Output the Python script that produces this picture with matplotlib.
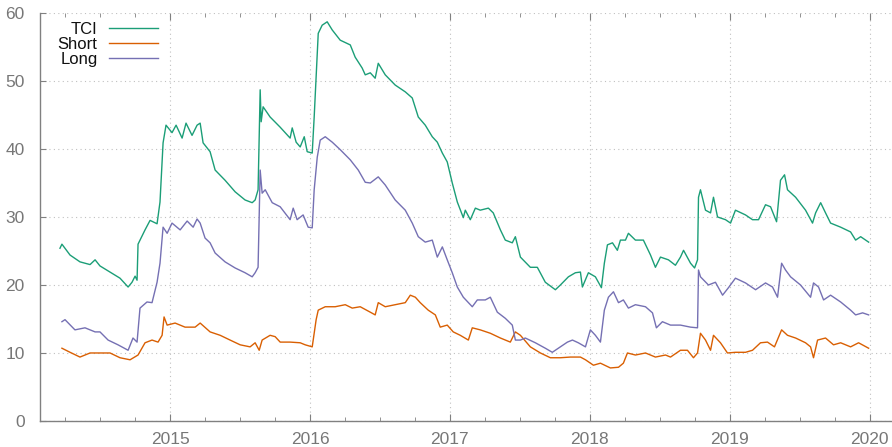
import numpy as np
import matplotlib
matplotlib.use("Agg")
import matplotlib.pyplot as plt
from matplotlib.ticker import MultipleLocator

plt.rcParams['font.family'] = ['Liberation Sans', 'DejaVu Sans']

# dates as decimal years
tci_t = [2014.213, 2014.227, 2014.285, 2014.356, 2014.428, 2014.464, 2014.499, 2014.571, 2014.642,
         2014.700, 2014.728, 2014.750, 2014.764, 2014.771, 2014.821, 2014.857, 2014.907, 2014.928,
         2014.950, 2014.971, 2015.014, 2015.043, 2015.086, 2015.114, 2015.157, 2015.193, 2015.215,
         2015.236, 2015.286, 2015.322, 2015.393, 2015.465, 2015.536, 2015.587, 2015.608, 2015.629,
         2015.644, 2015.651, 2015.665, 2015.715, 2015.787, 2015.858, 2015.873, 2015.901, 2015.930,
         2015.959, 2015.980, 2016.016, 2016.030, 2016.044, 2016.059, 2016.087, 2016.123, 2016.159,
         2016.216, 2016.288, 2016.323, 2016.373, 2016.395, 2016.431, 2016.466, 2016.488, 2016.538,
         2016.609, 2016.681, 2016.731, 2016.774, 2016.824, 2016.874, 2016.910, 2016.946, 2016.981,
         2017.017, 2017.053, 2017.096, 2017.110, 2017.146, 2017.182, 2017.217, 2017.275, 2017.310,
         2017.361, 2017.396, 2017.446, 2017.468, 2017.504, 2017.575, 2017.625, 2017.682, 2017.754,
         2017.790, 2017.847, 2017.897, 2017.933, 2017.947, 2017.990, 2018.040, 2018.083, 2018.104,
         2018.126, 2018.162, 2018.197, 2018.219, 2018.255, 2018.276, 2018.326, 2018.383, 2018.434,
         2018.469, 2018.505, 2018.562, 2018.612, 2018.648, 2018.670, 2018.720, 2018.749, 2018.770,
         2018.777, 2018.791, 2018.827, 2018.863, 2018.884, 2018.913, 2018.970, 2019.006, 2019.041,
         2019.113, 2019.163, 2019.206, 2019.256, 2019.292, 2019.335, 2019.363, 2019.392, 2019.413,
         2019.471, 2019.542, 2019.592, 2019.614, 2019.650, 2019.685, 2019.721, 2019.793, 2019.864,
         2019.900, 2019.936, 2019.993]
tci_v = [25.4, 26.0, 24.4, 23.4, 23.0, 23.7, 22.8, 21.9, 21.0,
         19.7, 20.4, 21.3, 20.7, 26.0, 28.1, 29.5, 29.0, 32.2,
         40.9, 43.5, 42.4, 43.5, 41.6, 43.8, 42.0, 43.5, 43.8,
         40.9, 39.6, 36.9, 35.4, 33.7, 32.5, 32.1, 32.5, 34.0,
         48.7, 44.0, 46.2, 44.7, 43.2, 41.6, 43.1, 41.0, 40.3,
         41.8, 39.6, 39.4, 44.7, 50.6, 57.0, 58.2, 58.7, 57.5,
         56.0, 55.3, 53.5, 51.9, 50.9, 51.2, 50.4, 52.6, 50.9,
         49.4, 48.4, 47.5, 44.7, 43.5, 41.8, 41.0, 39.4, 38.1,
         35.0, 32.2, 29.9, 31.0, 29.6, 31.3, 31.0, 31.3, 30.6,
         28.1, 26.6, 26.2, 27.1, 24.1, 22.6, 22.6, 20.4, 19.3,
         20.0, 21.2, 21.8, 21.9, 19.7, 21.8, 21.2, 19.6, 23.2,
         25.9, 26.2, 25.1, 26.6, 26.6, 27.6, 26.6, 26.6, 24.4,
         22.6, 24.1, 23.7, 22.9, 24.1, 25.1, 23.2, 22.5, 23.7,
         32.9, 34.0, 31.0, 30.6, 32.9, 30.0, 29.6, 29.1, 31.0,
         30.3, 29.6, 29.6, 31.8, 31.5, 29.3, 35.4, 36.2, 34.0,
         32.9, 31.0, 29.1, 30.6, 32.1, 30.6, 29.1, 28.5, 27.8,
         26.6, 27.1, 26.3]

long_t = [2014.227, 2014.249, 2014.320, 2014.392, 2014.464, 2014.499, 2014.557, 2014.628, 2014.700,
          2014.735, 2014.764, 2014.785, 2014.835, 2014.871, 2014.907, 2014.928, 2014.950, 2014.979,
          2015.014, 2015.072, 2015.122, 2015.165, 2015.193, 2015.215, 2015.250, 2015.286, 2015.322,
          2015.393, 2015.465, 2015.536, 2015.587, 2015.608, 2015.629, 2015.644, 2015.658, 2015.680,
          2015.730, 2015.787, 2015.858, 2015.880, 2015.908, 2015.951, 2015.987, 2016.016, 2016.030,
          2016.052, 2016.073, 2016.109, 2016.159, 2016.216, 2016.288, 2016.345, 2016.395, 2016.431,
          2016.488, 2016.538, 2016.609, 2016.681, 2016.731, 2016.774, 2016.824, 2016.874, 2016.910,
          2016.946, 2016.981, 2017.017, 2017.053, 2017.096, 2017.160, 2017.196, 2017.253, 2017.289,
          2017.339, 2017.396, 2017.446, 2017.468, 2017.504, 2017.539, 2017.611, 2017.682, 2017.732,
          2017.790, 2017.840, 2017.876, 2017.918, 2017.969, 2018.004, 2018.040, 2018.076, 2018.104,
          2018.133, 2018.169, 2018.205, 2018.240, 2018.276, 2018.326, 2018.398, 2018.448, 2018.476,
          2018.519, 2018.577, 2018.648, 2018.720, 2018.770, 2018.777, 2018.791, 2018.848, 2018.898,
          2018.949, 2018.991, 2019.041, 2019.113, 2019.185, 2019.256, 2019.306, 2019.342, 2019.371,
          2019.399, 2019.435, 2019.506, 2019.578, 2019.599, 2019.635, 2019.671, 2019.721, 2019.793,
          2019.864, 2019.900, 2019.950, 2019.993]
long_v = [14.6, 14.9, 13.4, 13.7, 13.1, 13.1, 11.9, 11.2, 10.4,
          12.2, 11.6, 16.6, 17.5, 17.4, 20.4, 23.2, 28.5, 27.6,
          29.1, 28.1, 29.4, 28.5, 29.7, 29.1, 26.9, 26.2, 24.7,
          23.4, 22.5, 21.8, 21.2, 21.8, 22.6, 36.9, 33.5, 34.0,
          32.1, 31.5, 29.6, 31.3, 29.6, 30.3, 28.5, 28.4, 34.0,
          38.8, 41.3, 41.8, 41.0, 39.9, 38.4, 36.9, 35.1, 35.0,
          35.9, 34.7, 32.5, 31.0, 29.1, 27.1, 26.3, 26.6, 24.1,
          25.6, 23.7, 21.8, 19.7, 18.2, 16.8, 17.8, 17.8, 18.2,
          16.0, 15.1, 14.1, 11.9, 11.9, 12.2, 11.5, 10.7, 10.1,
          10.9, 11.6, 11.9, 11.5, 10.9, 13.4, 12.6, 11.6, 16.3,
          18.2, 19.0, 17.4, 17.8, 16.6, 17.1, 16.8, 15.9, 13.7,
          14.6, 14.1, 14.1, 13.8, 13.7, 22.2, 21.2, 20.0, 20.4,
          18.5, 19.6, 21.0, 20.3, 19.3, 20.3, 19.7, 18.2, 23.2,
          22.2, 21.2, 20.0, 18.2, 20.3, 19.7, 17.8, 18.5, 17.5,
          16.3, 15.6, 15.9, 15.6]

short_t = [2014.227, 2014.285, 2014.356, 2014.428, 2014.499, 2014.571, 2014.642, 2014.714, 2014.771,
           2014.821, 2014.871, 2014.914, 2014.943, 2014.957, 2014.979, 2015.036, 2015.107, 2015.179,
           2015.215, 2015.286, 2015.358, 2015.429, 2015.501, 2015.572, 2015.608, 2015.637, 2015.658,
           2015.715, 2015.751, 2015.787, 2015.858, 2015.930, 2015.966, 2016.016, 2016.044, 2016.059,
           2016.109, 2016.180, 2016.252, 2016.302, 2016.359, 2016.431, 2016.466, 2016.488, 2016.538,
           2016.609, 2016.681, 2016.717, 2016.753, 2016.788, 2016.845, 2016.896, 2016.931, 2016.981,
           2017.024, 2017.074, 2017.132, 2017.160, 2017.217, 2017.289, 2017.361, 2017.432, 2017.468,
           2017.504, 2017.575, 2017.647, 2017.718, 2017.790, 2017.861, 2017.933, 2017.969, 2018.026,
           2018.076, 2018.147, 2018.205, 2018.240, 2018.269, 2018.326, 2018.398, 2018.469, 2018.541,
           2018.577, 2018.648, 2018.698, 2018.741, 2018.770, 2018.791, 2018.827, 2018.863, 2018.884,
           2018.934, 2018.984, 2019.041, 2019.113, 2019.163, 2019.220, 2019.270, 2019.320, 2019.371,
           2019.413, 2019.471, 2019.542, 2019.578, 2019.599, 2019.628, 2019.685, 2019.742, 2019.793,
           2019.864, 2019.921, 2019.993]
short_v = [10.7, 10.1, 9.4, 10.0, 10.0, 10.0, 9.3, 9.0, 9.7,
           11.5, 11.9, 11.6, 12.6, 15.3, 14.1, 14.4, 13.8, 13.8,
           14.4, 13.1, 12.6, 11.9, 11.2, 10.9, 11.5, 10.4, 11.9,
           12.6, 12.4, 11.6, 11.6, 11.5, 11.2, 10.9, 14.9, 16.3,
           16.8, 16.8, 17.1, 16.6, 16.8, 16.0, 15.6, 17.4, 16.8,
           17.1, 17.4, 18.5, 18.2, 17.4, 16.3, 15.6, 13.8, 14.1,
           13.1, 12.6, 11.9, 13.7, 13.4, 12.9, 12.2, 11.6, 13.1,
           12.6, 10.9, 10.0, 9.3, 9.3, 9.4, 9.4, 9.0, 8.2,
           8.5, 7.8, 7.9, 8.5, 10.0, 9.7, 10.0, 9.4, 9.7,
           9.4, 10.4, 10.4, 9.3, 10.0, 12.9, 11.9, 10.4, 12.6,
           11.5, 10.0, 10.1, 10.1, 10.4, 11.5, 11.6, 10.9, 13.4,
           12.6, 12.2, 11.5, 10.9, 9.3, 11.9, 12.2, 11.2, 11.5,
           10.9, 11.5, 10.7]

years = [2015, 2016, 2017, 2018, 2019, 2020]
axis_grey = '#808080'

fig = plt.figure(figsize=(8.92, 4.47), dpi=100)
ax = fig.add_axes([0.0448, 0.0582, 0.9552, 0.9128])

ax.plot(tci_t, tci_v, color='#1b9e77', lw=1.0, label='TCI')
ax.plot(short_t, short_v, color='#d95f02', lw=1.0, label='Short')
ax.plot(long_t, long_v, color='#7570b3', lw=1.0, label='Long')

ax.set_xlim(2014.07, 2020.16)
ax.set_ylim(0, 60)
ax.set_xticks(years)
ax.set_xticklabels([str(y) for y in years])
ax.xaxis.set_minor_locator(MultipleLocator(0.25))
ax.set_yticks(range(0, 61, 10))

for s in ['top', 'right']:
    ax.spines[s].set_visible(False)
for s in ['left', 'bottom']:
    ax.spines[s].set_color(axis_grey)
    ax.spines[s].set_linewidth(1.0)

ax.tick_params(axis='both', which='both', direction='in', colors=axis_grey,
               labelcolor='#777777', labelsize=12.5)
ax.tick_params(axis='x', which='major', length=5, pad=8, top=True)
ax.tick_params(axis='x', which='minor', length=3, top=True)
ax.tick_params(axis='y', which='major', length=4, pad=11)

ax.grid(True, which='major', color='#c0c0c0', linestyle=(0, (1, 3)), linewidth=0.8)

leg = ax.legend(loc='upper left', bbox_to_anchor=(0.009, 1.003), frameon=False,
                markerfirst=False, handlelength=2.9, handletextpad=0.7,
                labelspacing=0.0, fontsize=12, borderaxespad=0.2)
for t in leg.get_texts():
    t.set_color('#111111')

fig.savefig('out.png', dpi=100)
